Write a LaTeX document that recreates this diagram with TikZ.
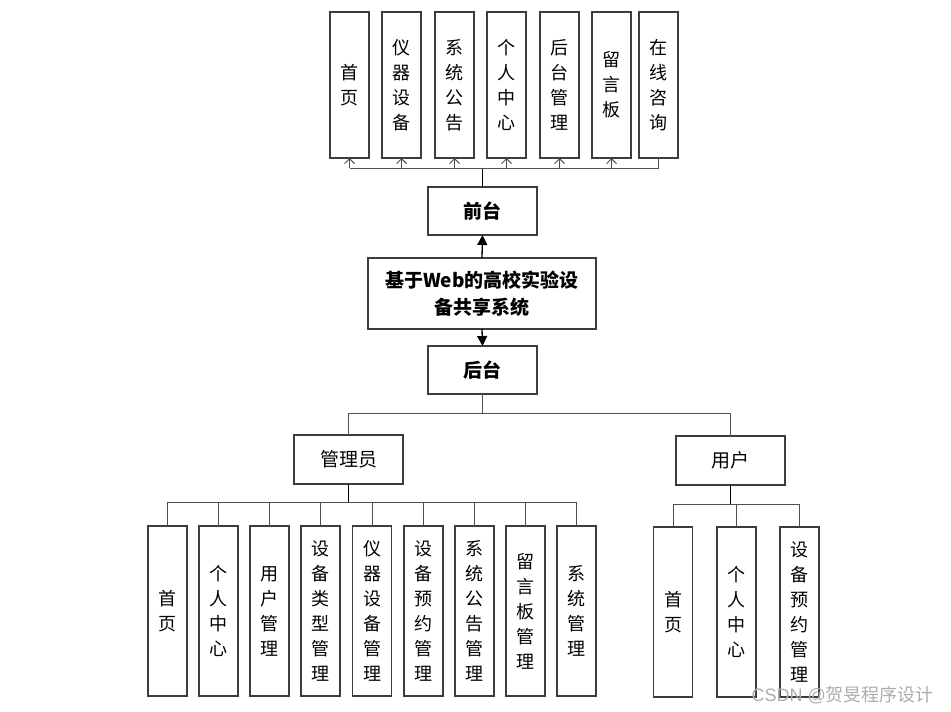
\documentclass[tikz,border=0pt]{standalone}
\usepackage{fontspec}
\newfontfamily\cjk{Noto Sans CJK SC}
\newfontfamily\lat{Liberation Sans}
\usetikzlibrary{arrows.meta}
\definecolor{boxline}{HTML}{3C3C3C}
\definecolor{connline}{HTML}{505050}
\tikzset{
  vbox/.style={draw=boxline, line width=1.1pt, fill=white, minimum width=39pt, inner sep=0pt, outer sep=0pt,
    align=center, font=\cjk\fontsize{18}{25}\selectfont},
  topbox/.style={vbox, minimum height=146pt},
  botbox/.style={vbox, minimum height=170pt},
  hbox/.style={draw=boxline, line width=1.1pt, fill=white, inner sep=0pt, outer sep=0pt, align=center,
    font=\cjk\fontsize{19}{27}\selectfont},
  conn/.style={draw=connline, line width=1pt},
  trunk/.style={draw=black, line width=1.6pt},
  barb/.style={-{Straight Barb[length=5pt,width=10pt,line width=1pt]}},
  tri/.style={-{Triangle[length=10pt,width=10pt]}, draw=black, line width=1.3pt},
}
\begin{document}
\begin{tikzpicture}[x=1pt,y=-1pt]
\useasboundingbox (0,0) rectangle (951,712);
% top boxes
\node[topbox] (t1) at (349.5,85) {首\\页};
\node[topbox] (t2) at (401.5,85) {仪\\器\\设\\备};
\node[topbox] (t3) at (454.5,85) {系\\统\\公\\告};
\node[topbox] (t4) at (506.5,85) {个\\人\\中\\心};
\node[topbox] (t5) at (559.5,85) {后\\台\\管\\理};
\node[topbox] (t6) at (611.5,85) {留\\言\\板};
\node[topbox] (t7) at (658.5,85) {在\\线\\咨\\询};
% middle
\node[hbox, minimum width=109pt, minimum height=48pt] (fr) at (482.5,211) {\bfseries 前台};
\node[hbox, minimum width=228pt, minimum height=71pt] (main) at (482,293.5) {\bfseries 基于Web的高校实验设\\\bfseries 备共享系统};
\node[hbox, minimum width=109pt, minimum height=48pt] (bk) at (482.5,370) {\bfseries 后台};
\node[hbox, minimum width=109pt, minimum height=49pt] (adm) at (348.5,459.5) {管理员};
\node[hbox, minimum width=109pt, minimum height=49pt] (usr) at (730.5,460.5) {用户};
% admin boxes
\node[botbox] (a1) at (167.5,611) {首\\页};
\node[botbox] (a2) at (218.5,611) {个\\人\\中\\心};
\node[botbox] (a3) at (269.5,611) {用\\户\\管\\理};
\node[botbox] (a4) at (320.5,611) {设\\备\\类\\型\\管\\理};
\node[botbox] (a5) at (372,611) {仪\\器\\设\\备\\管\\理};
\node[botbox] (a6) at (423.5,611) {设\\备\\预\\约\\管\\理};
\node[botbox] (a7) at (474.5,611) {系\\统\\公\\告\\管\\理};
\node[botbox] (a8) at (525.5,611) {留\\言\\板\\管\\理};
\node[botbox] (a9) at (576.5,611) {系\\统\\管\\理};
% user boxes
\node[botbox] (u1) at (673,612) {首\\页};
\node[botbox] (u2) at (736.5,612) {个\\人\\中\\心};
\node[botbox] (u3) at (799.5,612) {设\\备\\预\\约\\管\\理};
% bus coordinates
\coordinate (tbus) at (482.5,168);
\coordinate (mbus) at (482.5,413);
\coordinate (abus) at (348.5,502);
\coordinate (ubus) at (730.5,504);
% top connections
\draw[trunk] (fr.north) -- (tbus);
\draw[conn] (tbus -| t1) -- (tbus -| t7);
\foreach \i in {1,...,6} { \draw[conn,barb] (tbus -| t\i) -- (t\i.south); }
\draw[conn] (tbus -| t7) -- (t7.south);
% main arrows
\draw[tri] (main.north) -- (fr.south);
\draw[tri] (main.south) -- (bk.north);
% middle connections
\draw[conn] (bk.south) -- (mbus);
\draw[conn] (adm.north) |- (mbus);
\draw[conn] (mbus) -| (usr.north);
% admin connections
\draw[trunk] (adm.south) -- (abus);
\draw[conn] (abus -| a1) -- (abus -| a9);
\foreach \i in {1,...,9} { \draw[conn] (abus -| a\i) -- (a\i.north); }
% user connections
\draw[trunk] (usr.south) -- (ubus);
\draw[conn] (ubus -| u1) -- (ubus -| u3);
\foreach \i in {1,2,3} { \draw[conn] (ubus -| u\i) -- (u\i.north); }
% watermark
\node[text=gray!65, font=\cjk\fontsize{18}{20}\selectfont, anchor=east, inner sep=0pt] (wm) at (934,695) {{\lat CSDN @}贺旻程序设计};
\end{tikzpicture}
\end{document}
